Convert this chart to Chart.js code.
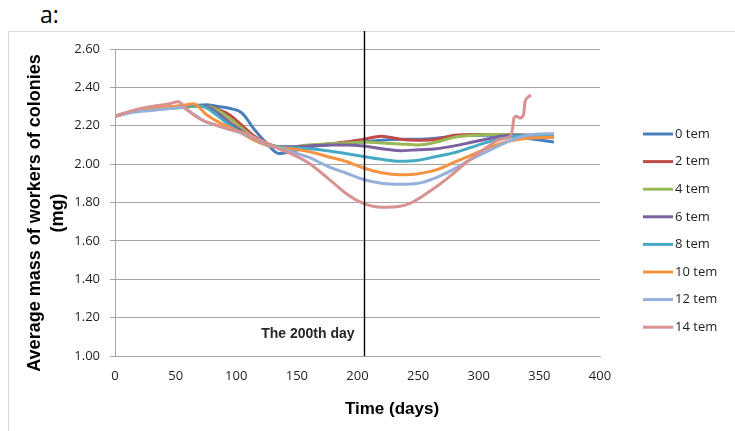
<!DOCTYPE html>
<html>
<head>
<meta charset="utf-8">
<title>Average mass of workers</title>
<script src="https://cdn.jsdelivr.net/npm/chart.js@4"></script>
<style>
  html, body { margin: 0; padding: 0; background: #fff; }
  #wrap { position: relative; width: 735px; height: 431px; overflow: hidden; }
  #frame { position: absolute; left: 8px; top: 31px; width: 760px; height: 440px; border: 1px solid #d9d9d9; }
  #tag { position: absolute; left: 40px; top: -2px; font: 23px "Open Sans", sans-serif; color: #000; }
  canvas { position: absolute; left: 0; top: 0; }
</style>
</head>
<body>
<div id="wrap">
  <div id="frame"></div>
  <div id="tag">a:</div>
  <canvas id="massChart" width="735" height="431"></canvas>
</div>
<script>
const days = [0, 15, 30, 45, 55, 65, 75, 85, 95, 105, 115, 125, 135, 145, 160, 175, 190, 205, 220, 235, 250, 265, 280, 295, 310, 325, 340, 362];
const days14 = [0, 15, 30, 45, 52, 60, 70, 85, 95, 105, 115, 125, 135, 145, 160, 175, 190, 205, 220, 235, 245, 260, 275, 290, 305, 318, 326, 328, 329, 331, 334, 337, 338, 340, 343];

const tem0 = [2.25, 2.275, 2.285, 2.295, 2.30, 2.305, 2.31, 2.30, 2.29, 2.265, 2.18, 2.11, 2.055, 2.065, 2.09, 2.10, 2.11, 2.115, 2.125, 2.13, 2.13, 2.135, 2.145, 2.15, 2.15, 2.15, 2.135, 2.115];
const tem2 = [2.25, 2.275, 2.285, 2.295, 2.30, 2.305, 2.30, 2.285, 2.255, 2.20, 2.145, 2.11, 2.09, 2.085, 2.095, 2.105, 2.115, 2.13, 2.145, 2.13, 2.125, 2.13, 2.15, 2.155, 2.155, 2.155, 2.15, 2.14];
const tem4 = [2.25, 2.275, 2.285, 2.29, 2.295, 2.30, 2.30, 2.28, 2.235, 2.185, 2.135, 2.105, 2.09, 2.09, 2.10, 2.105, 2.11, 2.115, 2.11, 2.105, 2.10, 2.115, 2.14, 2.15, 2.155, 2.155, 2.15, 2.145];
const tem6 = [2.25, 2.275, 2.285, 2.295, 2.30, 2.305, 2.30, 2.265, 2.215, 2.17, 2.13, 2.10, 2.09, 2.09, 2.095, 2.10, 2.10, 2.095, 2.08, 2.07, 2.075, 2.08, 2.095, 2.115, 2.135, 2.15, 2.15, 2.145];
const tem8 = [2.25, 2.275, 2.285, 2.295, 2.30, 2.305, 2.295, 2.25, 2.20, 2.16, 2.125, 2.10, 2.09, 2.085, 2.08, 2.07, 2.055, 2.04, 2.025, 2.015, 2.02, 2.04, 2.06, 2.09, 2.12, 2.14, 2.15, 2.145];
const tem10 = [2.25, 2.275, 2.29, 2.30, 2.305, 2.315, 2.26, 2.22, 2.19, 2.16, 2.125, 2.10, 2.085, 2.08, 2.065, 2.04, 2.015, 1.98, 1.955, 1.945, 1.95, 1.97, 2.01, 2.05, 2.09, 2.12, 2.135, 2.14];
const tem12 = [2.25, 2.27, 2.28, 2.29, 2.295, 2.26, 2.22, 2.20, 2.18, 2.16, 2.135, 2.105, 2.085, 2.065, 2.035, 1.99, 1.955, 1.92, 1.90, 1.895, 1.90, 1.93, 1.975, 2.03, 2.075, 2.12, 2.15, 2.16];
const tem14 = [2.25, 2.28, 2.30, 2.315, 2.325, 2.28, 2.235, 2.20, 2.18, 2.165, 2.14, 2.11, 2.08, 2.055, 2.005, 1.93, 1.85, 1.795, 1.775, 1.78, 1.80, 1.86, 1.93, 2.01, 2.08, 2.13, 2.145, 2.19, 2.24, 2.25, 2.24, 2.26, 2.32, 2.345, 2.36];

const seriesNames = ["0 tem", "2 tem", "4 tem", "6 tem", "8 tem", "10 tem", "12 tem", "14 tem"];
const seriesColors = ["#4a7ebb", "#be4b48", "#98b954", "#7d60a0", "#46aac5", "#f69240", "#95b0da", "#d79291"];
const yTicks = [1.0, 1.2, 1.4, 1.6, 1.8, 2.0, 2.2, 2.4, 2.6];
const markDay = 205;
const markLabel = "The 200th day";

function toPoints(xs, ys) {
  return xs.map(function(x, i) { return { x: x, y: ys[i] }; });
}

const allValues = [tem0, tem2, tem4, tem6, tem8, tem10, tem12, tem14];
const datasets = allValues.map(function(vals, i) {
  const xs = i === 7 ? days14 : days;
  return {
    label: seriesNames[i],
    data: toPoints(xs, vals),
    borderColor: seriesColors[i],
    backgroundColor: seriesColors[i],
    borderWidth: 3,
    pointRadius: 0,
    cubicInterpolationMode: "monotone",
    order: 7 - i
  };
});

// titles, the day marker and the legend are painted straight on the canvas
const extras = {
  id: "extras",
  afterDatasetsDraw(chart) {
    const ctx = chart.ctx;
    const x = chart.scales.x;
    const area = chart.chartArea;
    ctx.save();

    const mx = Math.round(x.getPixelForValue(markDay)) + 0.5;
    ctx.strokeStyle = "#000";
    ctx.lineWidth = 1.4;
    ctx.beginPath();
    ctx.moveTo(mx, 31);
    ctx.lineTo(mx, area.bottom);
    ctx.stroke();

    ctx.fillStyle = "#262626";
    ctx.font = "bold 14px 'Liberation Sans', Arial, sans-serif";
    ctx.textAlign = "right";
    ctx.textBaseline = "middle";
    ctx.fillText(markLabel, mx - 10, 334);

    ctx.textAlign = "center";
    ctx.fillStyle = "#000";
    ctx.font = "bold 17px 'Liberation Sans', Arial, sans-serif";
    ctx.fillText("Time (days)", 392, 409);

    ctx.save();
    ctx.translate(35, 213);
    ctx.rotate(-Math.PI / 2);
    ctx.font = "bold 18px 'Liberation Sans', Arial, sans-serif";
    ctx.fillText("Average mass of workers of colonies", 0, 0);
    ctx.restore();
    ctx.save();
    ctx.translate(58, 213);
    ctx.rotate(-Math.PI / 2);
    ctx.font = "bold 18px 'Liberation Sans', Arial, sans-serif";
    ctx.fillText("(mg)", 0, 0);
    ctx.restore();

    ctx.textAlign = "left";
    ctx.font = "13px 'Open Sans', sans-serif";
    seriesNames.forEach(function(name, i) {
      const ly = 134 + i * 27.6;
      ctx.strokeStyle = seriesColors[i];
      ctx.lineWidth = 3;
      ctx.beginPath();
      ctx.moveTo(643, ly);
      ctx.lineTo(673, ly);
      ctx.stroke();
      ctx.fillStyle = "#1f1f1f";
      ctx.fillText(name, 675, ly);
    });
    ctx.restore();
  }
};

const ctx = document.getElementById("massChart");
new Chart(ctx, {
  type: "line",
  data: { datasets: datasets },
  options: {
    responsive: false,
    animation: false,
    events: [],
    layout: { padding: { left: 60, right: 135, top: 49, bottom: 50 } },
    plugins: { legend: { display: false }, tooltip: { enabled: false } },
    scales: {
      x: {
        type: "linear",
        min: 0,
        max: 400,
        afterFit: function(scale) { scale.height = 25; },
        ticks: {
          stepSize: 50,
          padding: 12,
          color: "#1f1f1f",
          font: { family: "'Open Sans', sans-serif", size: 13 }
        },
        grid: { display: false, drawTicks: false },
        border: { display: true, color: "#a6a6a6", width: 1 }
      },
      y: {
        min: 1,
        max: 2.6,
        afterFit: function(scale) { scale.width = 55; },
        afterBuildTicks: function(scale) {
          scale.ticks = yTicks.map(function(v) { return { value: v }; });
        },
        ticks: {
          padding: 10,
          color: "#1f1f1f",
          font: { family: "'Open Sans', sans-serif", size: 13 },
          callback: function(v) { return Number(v).toFixed(2); }
        },
        grid: { color: "#a6a6a6", lineWidth: 1, tickLength: 5 },
        border: { display: true, color: "#a6a6a6", width: 1 }
      }
    }
  },
  plugins: [extras]
});
</script>
</body>
</html>
